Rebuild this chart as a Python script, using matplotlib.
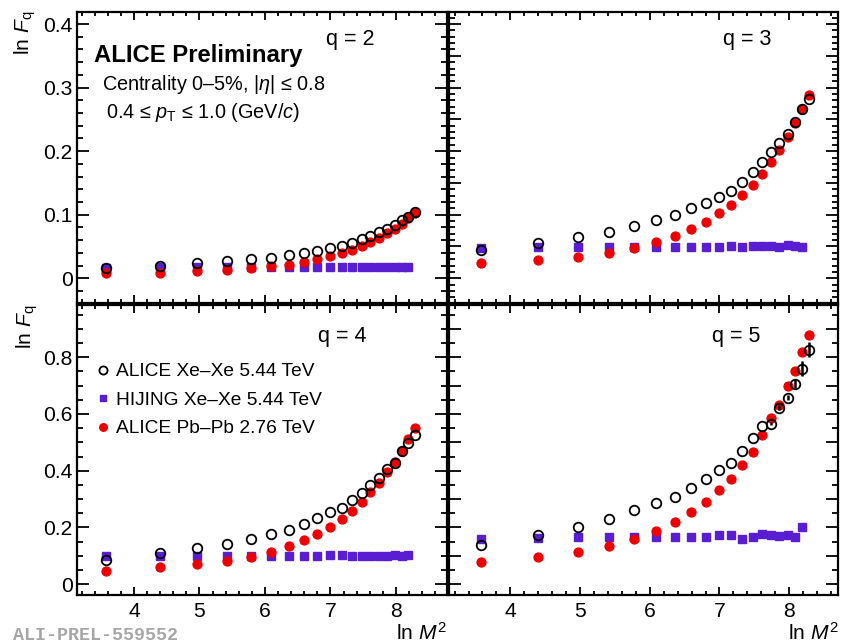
import numpy as np
import matplotlib
matplotlib.use("Agg")
import matplotlib.pyplot as plt
from matplotlib.ticker import MultipleLocator, FuncFormatter

plt.rcParams['font.family'] = ['Liberation Sans', 'DejaVu Sans']
plt.rcParams['mathtext.fontset'] = 'custom'
plt.rcParams['mathtext.rm'] = 'Liberation Sans'
plt.rcParams['mathtext.it'] = 'Liberation Sans:italic'
plt.rcParams['mathtext.bf'] = 'Liberation Sans:bold'

# ---------------- data ----------------
lnM2 = [3.58, 4.39, 4.97, 5.42, 5.78, 6.09, 6.36, 6.59, 6.80, 6.99,
        7.17, 7.33, 7.48, 7.61, 7.74, 7.86, 7.98, 8.09, 8.19, 8.29]
lnM2_hij = lnM2[:19]

xexe_q2 = [0.016, 0.020, 0.024, 0.027, 0.030, 0.032, 0.036, 0.040, 0.043, 0.047,
           0.051, 0.055, 0.061, 0.066, 0.072, 0.077, 0.084, 0.091, 0.097, 0.104]
hij_q2 = [0.016, 0.017, 0.017, 0.017, 0.017, 0.017, 0.017, 0.017, 0.017, 0.017,
          0.017, 0.017, 0.017, 0.017, 0.017, 0.017, 0.017, 0.017, 0.017]
pbpb_q2 = [0.008, 0.009, 0.011, 0.013, 0.016, 0.019, 0.021, 0.026, 0.030, 0.035,
           0.039, 0.045, 0.050, 0.057, 0.063, 0.071, 0.078, 0.086, 0.095, 0.103]

xexe_q3 = [0.044, 0.056, 0.065, 0.073, 0.082, 0.091, 0.099, 0.111, 0.119, 0.128,
           0.137, 0.152, 0.167, 0.183, 0.198, 0.213, 0.227, 0.246, 0.266, 0.282]
hij_q3 = [0.048, 0.049, 0.049, 0.049, 0.049, 0.049, 0.049, 0.049, 0.049, 0.049,
          0.050, 0.049, 0.050, 0.050, 0.050, 0.049, 0.052, 0.051, 0.049]
pbpb_q3 = [0.024, 0.028, 0.034, 0.040, 0.047, 0.057, 0.066, 0.077, 0.089, 0.102,
           0.115, 0.131, 0.147, 0.164, 0.183, 0.202, 0.223, 0.244, 0.266, 0.288]

xexe_q4 = [0.086, 0.109, 0.126, 0.141, 0.161, 0.176, 0.192, 0.212, 0.234, 0.254,
           0.269, 0.296, 0.321, 0.351, 0.375, 0.406, 0.428, 0.471, 0.499, 0.525]
hij_q4 = [0.098, 0.100, 0.100, 0.100, 0.100, 0.100, 0.100, 0.100, 0.099, 0.102,
          0.103, 0.101, 0.101, 0.101, 0.101, 0.100, 0.102, 0.101, 0.104]
pbpb_q4 = [0.048, 0.059, 0.071, 0.081, 0.096, 0.113, 0.133, 0.155, 0.176, 0.202,
           0.229, 0.258, 0.288, 0.324, 0.358, 0.394, 0.432, 0.471, 0.512, 0.552]

xexe_q5 = [0.139, 0.175, 0.202, 0.229, 0.262, 0.286, 0.307, 0.339, 0.371, 0.401,
           0.427, 0.468, 0.514, 0.559, 0.566, 0.622, 0.658, 0.707, 0.760, 0.827]
xexe_q5_err = [0, 0, 0, 0, 0, 0, 0, 0, 0, 0,
               0, 0, 0, 0, 0.005, 0.008, 0.010, 0.015, 0.025, 0.026]
hij_q5 = [0.160, 0.162, 0.165, 0.165, 0.166, 0.165, 0.167, 0.168, 0.166, 0.175,
          0.173, 0.161, 0.165, 0.176, 0.173, 0.169, 0.173, 0.165, 0.200]
hij_q5_err = [0, 0, 0, 0, 0, 0, 0, 0, 0, 0,
              0, 0, 0, 0, 0, 0, 0, 0.008, 0.010]
pbpb_q5 = [0.078, 0.096, 0.114, 0.136, 0.159, 0.189, 0.219, 0.253, 0.291, 0.332,
           0.372, 0.419, 0.467, 0.526, 0.587, 0.632, 0.698, 0.753, 0.819, 0.878]

series_labels = ["ALICE Xe\u2013Xe 5.44 TeV", "HIJING Xe\u2013Xe 5.44 TeV", "ALICE Pb\u2013Pb 2.76 TeV"]
q_labels = ["q = 2", "q = 3", "q = 4", "q = 5"]

# ---------------- figure ----------------
W, H = 844, 644
fig = plt.figure(figsize=(W / 100, H / 100), dpi=100)

def rect(l, r, t, b):
    return [l / W, 1 - b / H, (r - l) / W, (b - t) / H]

axes = [
    fig.add_axes(rect(77, 447, 12, 303)),
    fig.add_axes(rect(449, 838, 12, 303)),
    fig.add_axes(rect(77, 447, 305, 595)),
    fig.add_axes(rect(449, 838, 305, 595)),
]

RED = '#ee0000'
BLUE = '#5a1ed2'

panels = [
    (xexe_q2, None, hij_q2, None, pbpb_q2),
    (xexe_q3, None, hij_q3, None, pbpb_q3),
    (xexe_q4, None, hij_q4, None, pbpb_q4),
    (xexe_q5, xexe_q5_err, hij_q5, hij_q5_err, pbpb_q5),
]

xlims = [(3.13, 8.78), (3.12, 8.70), (3.13, 8.78), (3.12, 8.70)]
ylims = [(-0.039, 0.419), (-0.039, 0.419), (-0.038, 0.984), (-0.038, 0.984)]
ymaj = [0.1, 0.05, 0.2, 0.1]
ymin = [0.02, 0.01, 0.05, 0.05]

handles = None
for i, ax in enumerate(axes):
    xe, xe_err, hj, hj_err, pb = panels[i]
    h2 = ax.errorbar(lnM2_hij, hj, yerr=hj_err, fmt='s', ms=5.3, color=BLUE,
                     mec=BLUE, ecolor=BLUE, elinewidth=1.5, capsize=0, zorder=3)
    h3, = ax.plot(lnM2, pb, 'o', ms=6.4, color=RED, mec=RED, zorder=4)
    h1 = ax.errorbar(lnM2, xe, yerr=xe_err, fmt='o', ms=6.9, mfc='none', mec='black',
                     mew=1.3, ecolor='black', elinewidth=1.8, capsize=0, zorder=5)
    if i == 2:
        handles = (h1, h2, h3)
    ax.set_xlim(*xlims[i])
    ax.set_ylim(*ylims[i])
    ax.xaxis.set_major_locator(MultipleLocator(1))
    ax.xaxis.set_minor_locator(MultipleLocator(0.2))
    ax.yaxis.set_major_locator(MultipleLocator(ymaj[i]))
    ax.yaxis.set_minor_locator(MultipleLocator(ymin[i]))
    ax.tick_params(axis='both', which='both', direction='in', top=True, right=True,
                   width=1.3, labelsize=15.2, colors='black')
    ax.tick_params(axis='x', which='major', length=5.8, pad=5)
    ax.tick_params(axis='x', which='minor', length=2.9)
    ax.tick_params(axis='y', which='major', length=8.6, pad=3)
    ax.tick_params(axis='y', which='minor', length=4.3)
    for s in ax.spines.values():
        s.set_linewidth(1.6)
    ax.yaxis.set_major_formatter(FuncFormatter(lambda v, p: ('%g' % round(v, 3))))
    if i in (1, 3):
        ax.tick_params(axis='y', labelleft=False)
    if i in (0, 1):
        ax.tick_params(axis='x', labelbottom=False)

def fx(px):
    return px / W

def fy(py):
    return 1 - py / H

# panel texts
fig.text(fx(94), fy(62), "ALICE Preliminary", fontsize=17.2, fontweight='bold', va='baseline', ha='left')
fig.text(fx(326), fy(45), q_labels[0], fontsize=15.5, va='baseline', ha='left')
fig.text(fx(723), fy(45), q_labels[1], fontsize=15.5, va='baseline', ha='left')
fig.text(fx(318), fy(342), q_labels[2], fontsize=15.5, va='baseline', ha='left')
fig.text(fx(712), fy(342), q_labels[3], fontsize=15.5, va='baseline', ha='left')
fig.text(fx(102), fy(90), "Centrality 0\u20135%, |$\\eta$| \u2264 0.8", fontsize=14.3, va='baseline', ha='left')
fig.text(fx(106), fy(118), "0.4 \u2264 $p_{\\rm T}$ \u2264 1.0 (GeV/$c$)", fontsize=14.3, va='baseline', ha='left')

# axis labels
fig.text(fx(25), fy(10), "ln $F_{\\rm q}$", fontsize=15.2, rotation=90, va='top', ha='center')
fig.text(fx(27), fy(304), "ln $F_{\\rm q}$", fontsize=15.2, rotation=90, va='top', ha='center')
fig.text(fx(447), fy(640), "ln $M^{2}$", fontsize=15.2, va='baseline', ha='right')
fig.text(fx(839), fy(640), "ln $M^{2}$", fontsize=15.2, va='baseline', ha='right')

# legend
leg = axes[2].legend(handles, series_labels, loc='upper left', frameon=False,
                     bbox_to_anchor=(fx(97), fy(363)), bbox_transform=fig.transFigure,
                     fontsize=13.8, handlelength=0.6, handletextpad=0.4,
                     labelspacing=0.58, borderpad=0, borderaxespad=0, markerscale=0.85)

fig.text(fx(13), fy(640), "ALI-PREL-559552", fontsize=13.2, fontweight='bold',
         family='Liberation Mono', color='#a6a6a6', va='baseline', ha='left')

fig.savefig("out.png", dpi=100)
